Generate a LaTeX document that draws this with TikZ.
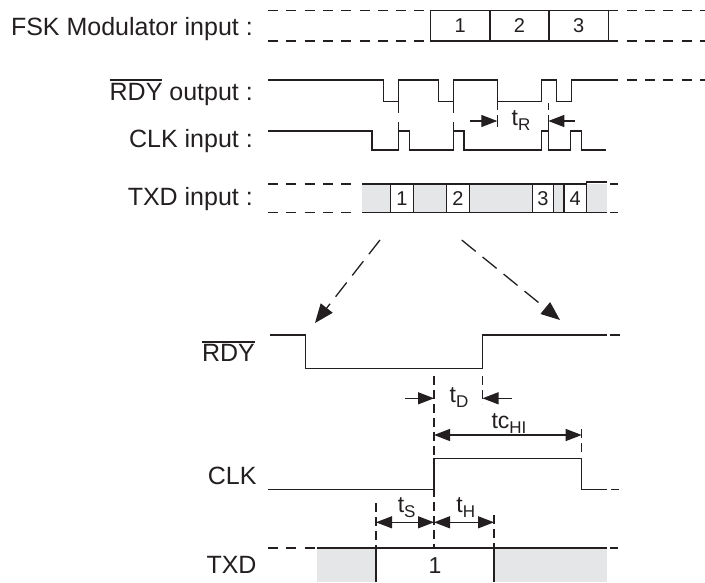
\documentclass[tikz,border=0pt]{standalone}
\usepackage{fontspec}
\setmainfont{Liberation Sans}
\usetikzlibrary{arrows.meta}
\definecolor{txdgray}{RGB}{229,230,231}
\definecolor{ink}{RGB}{35,31,32}
\newcommand{\ovbar}[1]{\setbox0\hbox{#1}\rlap{\rule[\dimexpr\ht0+1.6pt\relax]{\wd0}{1.9pt}}#1}
\newcommand{\tsub}[1]{\raisebox{-5pt}{\fontsize{17}{20}\selectfont #1}}
\tikzset{
    sig/.style={draw=ink, line width=1.3pt},
    dsh/.style={draw=ink, line width=1.3pt, dash pattern=on 10pt off 8.3pt},
    ext/.style={draw=ink, line width=1.2pt, dash pattern=on 9pt off 5pt},
    dim/.style={draw=ink, line width=1.2pt, -{Triangle[length=16pt,width=12pt]}},
    dimtwo/.style={draw=ink, line width=1.2pt, {Triangle[length=16pt,width=12pt]}-{Triangle[length=16pt,width=12pt]}},
    bigdash/.style={draw=ink, line width=1.3pt, dash pattern=on 18pt off 9pt, -{Triangle[length=19pt,width=15pt]}},
    lbl/.style={text=ink, font=\fontsize{25}{28}\selectfont, anchor=base east, inner sep=0pt},
    num/.style={text=ink, font=\fontsize{20}{22}\selectfont, inner sep=0pt},
    tlbl/.style={text=ink, font=\fontsize{23}{26}\selectfont, inner sep=0pt},
}

\begin{document}
\begin{tikzpicture}[x=1pt, y=-1pt]
        \useasboundingbox (0,0) rectangle (705,582);
        %label upper signals
        \node[lbl] (lfsk) at (253,35) {FSK Modulator input :};
        \node[lbl] (lrdy) at (253,100) {\ovbar{RDY} output :};
        \node[lbl] (lclk) at (253,147) {CLK input :};
        \node[lbl] (ltxd) at (253,205) {TXD input :};
        %draw FSK modulator input
        \draw[dsh] (268,10.7) -- (430.7,10.7);
        \draw[dsh] (268,41) -- (430.7,41);
        \draw[sig] (430.7,10.7) rectangle (608.3,41);
        \draw[sig] (490,10.7) -- (490,41) (549,10.7) -- (549,41);
        \draw[dsh] (608.3,10.7) -- (705,10.7);
        \draw[dsh] (608.3,41) -- (705,41);
        \node[num] (f1) at (460.3,26) {1};
        \node[num] (f2) at (519.5,26) {2};
        \node[num] (f3) at (578.7,26) {3};
        %draw RDY output and CLK input
        \draw[sig] (268,80) -- (383.3,80) -- (383.3,101.7) -- (398.3,101.7) -- (398.3,80) -- (438.3,80) -- (438.3,101.7) -- (453.3,101.7) -- (453.3,80) -- (497.3,80) -- (497.3,101.7) -- (541.7,101.7) -- (541.7,80) -- (556.7,80) -- (556.7,101.7) -- (571.7,101.7) -- (571.7,80) -- (608.3,80);
        \draw[dsh] (608.3,80) -- (705,80);
        \draw[sig] (268,131) -- (372,131) -- (372,150) -- (398.3,150) -- (398.3,131) -- (409.3,131) -- (409.3,150) -- (453.3,150) -- (453.3,131) -- (464,131) -- (464,150) -- (541.7,150) -- (541.7,131) -- (548.3,131) -- (548.3,150) -- (570.7,150) -- (570.7,131) -- (581.7,131) -- (581.7,150) -- (606,150);
        \foreach \x in {398.3,453.3} {
            \draw[sig] (\x,101.7) -- (\x,113);
            \draw[sig] (\x,122) -- (\x,131);
        }
        %draw t_R
        \draw[sig] (497.3,101.7) -- (497.3,110) (497.3,115) -- (497.3,127);
        \draw[sig] (548.3,103) -- (548.3,110) (548.3,115) -- (548.3,131);
        \draw[dim] (470,121) -- (497.3,121);
        \draw[dim] (575,121) -- (548.3,121);
        \node[tlbl] (tr) at (521,121) {t\tsub{R}};
        %draw TXD input
        \draw[dsh] (268,184) -- (352,184);
        \draw[dsh] (268,212.7) -- (352,212.7);
        \fill[txdgray] (362.3,184) rectangle (606.7,212.7);
        \foreach \a/\b in {390.7/413.3,446.7/469.3,532.7/553.3,564/586.7}
            \filldraw[sig, fill=white] (\a,184) rectangle (\b,212.7);
        \draw[sig] (362.3,184) -- (586.7,184) -- (586.7,182) -- (606.7,182);
        \draw[sig] (362.3,212.7) -- (606.7,212.7);
        \draw[sig] (610,184) -- (618,184) (610,212.7) -- (618,212.7);
        \node[num] (x1) at (402,198.5) {1};
        \node[num] (x2) at (458,198.5) {2};
        \node[num] (x3) at (543,198.5) {3};
        \node[num] (x4) at (575.3,198.5) {4};
        %draw zoom arrows
        \draw[bigdash] (380,240) -- (315,323);
        \draw[bigdash] (461.7,240) -- (560,320);
        %label lower signals
        \node[lbl] (brdy) at (255,361.7) {\ovbar{RDY}};
        \node[lbl] (bclk) at (256.7,484) {CLK};
        \node[lbl] (btxd) at (256.7,573.3) {TXD};
        %draw lower RDY and CLK
        \draw[sig] (270,335) -- (305.5,335) -- (305.5,368.7) -- (482.5,368.7) -- (482.5,335) -- (606.7,335);
        \draw[sig] (610,335) -- (620,335);
        \draw[sig] (268,489.5) -- (434,489.5) -- (434,458.3) -- (581.7,458.3) -- (581.7,489.5) -- (606.7,489.5);
        \draw[sig] (611,489.5) -- (619,489.5);
        %draw lower TXD
        \draw[dsh] (268,548) -- (316.7,548);
        \fill[txdgray] (316.7,548) rectangle (376,582);
        \fill[txdgray] (494,548) rectangle (606.7,582);
        \draw[sig] (316.7,548) -- (606.7,548);
        \draw[sig] (376,548) -- (376,582) (494,548) -- (494,582);
        \draw[sig] (610,548) -- (618,548);
        \node[tlbl] (b1) at (435,566) {1};
        %draw extension lines
        \draw[ext] (434,376) -- (434,548);
        \draw[ext] (482.5,376) -- (482.5,404);
        \draw[ext] (581.7,429) -- (581.7,453);
        \draw[ext] (376,503) -- (376,548);
        \draw[ext] (494,515) -- (494,548);
        %draw t_D, tc_HI, t_S and t_H
        \draw[dim] (405,398.3) -- (434,398.3);
        \draw[dim] (511.7,398.3) -- (482.5,398.3);
        \node[tlbl] (td) at (459,398) {t\tsub{D}};
        \draw[dimtwo] (434,435) -- (581.7,435);
        \node[tlbl] (tc) at (509,424) {tc\tsub{HI}};
        \draw[dimtwo] (376,522.3) -- (434,522.3);
        \draw[dimtwo] (434,522.3) -- (494,522.3);
        \node[tlbl] (ts) at (406.7,508) {t\tsub{S}};
        \node[tlbl] (th) at (465.8,508) {t\tsub{H}};
    \end{tikzpicture}
\end{document}
